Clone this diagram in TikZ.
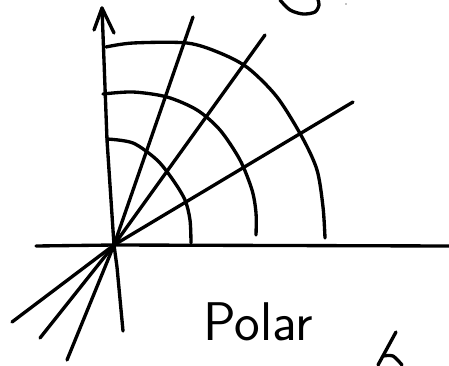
\documentclass[tikz,border=0pt]{standalone}
\usepackage{tikz}
\usetikzlibrary{calc}
\tikzstyle{pen} = [line width=1.9pt, line cap=round, line join=round]
\tikzstyle{label} = [font=\sffamily\fontsize{31}{31}\selectfont, inner sep=0pt]

\begin{document}
\begin{tikzpicture}[x=0.02cm, y=-0.02cm]
\useasboundingbox (0,0) rectangle (449,365);
\coordinate (O) at (114,245);

% axes
\draw[pen] (36,246) -- (O) -- (449,246);
\draw[pen] (123,331) -- (117,267) -- (O) -- (107,140) -- (102,8);
\draw[pen] (94,30) -- (102,8) -- (114,33);

% rays through the origin
\foreach \xa/\ya/\xb/\yb in {67/360/193/17, 40/338/265/35, 12/322/353/102} {
    \draw[pen] (\xa,\ya) -- (O) -- (\xb,\yb);
}

% circles r = const
\draw[pen] plot[smooth] coordinates {(107,139) (133,143) (157,160) (173,180) (185,200) (190,220) (191,243)};
\draw[pen] plot[smooth] coordinates {(103,94) (133,92) (167,97) (197,110) (220,130) (240,160) (252,190) (256,213) (256,235)};
\draw[pen] plot[smooth] coordinates {(106,47) (133,43) (187,43) (220,53) (248,68) (277,97) (302,137) (317,170) (323,207) (325,238)};

\node[label] (title) at (258,322) {Polar};

% cut-off strokes at the edges
\draw[pen] plot[smooth] coordinates {(280,0) (290,10) (303,14) (315,12) (319,5) (318,0)};
\fill (346,4) circle[radius=0.6];
\draw[pen] (378,365) -- (396,332);
\draw[pen] plot[smooth] coordinates {(383,356) (393,356) (402,365)};
\end{tikzpicture}
\end{document}
